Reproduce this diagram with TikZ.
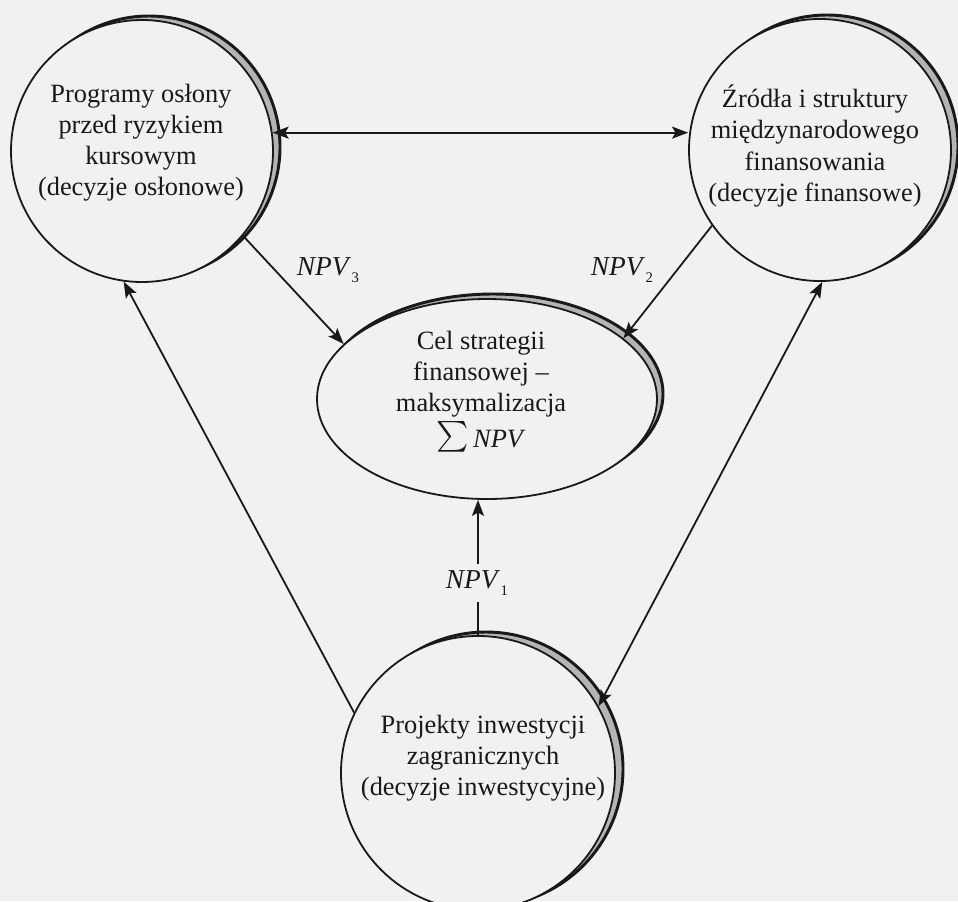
\documentclass[tikz,border=0pt]{standalone}
\usepackage{fontspec}
\setmainfont{Liberation Serif}
\usetikzlibrary{shapes.geometric,arrows.meta,calc}

\definecolor{paper}{RGB}{241,241,242}
\definecolor{rimgray}{RGB}{180,180,180}
\definecolor{ink}{RGB}{25,25,25}

% NPV with a small lowered index
\newcommand\npvsub[1]{\textit{NPV}\kern0.02em\raisebox{-0.55ex}{\fontsize{11}{11}\selectfont #1}}
% large summation sign, with a box trimmed to the visible glyph
\newcommand\bigsum{\raisebox{-0.4ex}[0.85em][0.25em]{\scalebox{2.3}{$\sum$}}}

\tikzset{
  x=0.75pt, y=-0.75pt,
  bubble/.style={circle, draw=ink, line width=1.35pt, fill=paper, inner sep=0pt, minimum size=#1},
  rim/.style={circle, draw=ink, line width=2.2pt, fill=rimgray, inner sep=0pt, minimum size=#1},
  oval/.style={ellipse, draw=ink, line width=1.35pt, fill=paper, inner sep=0pt,
               minimum width=255pt, minimum height=150pt},
  ovalrim/.style={ellipse, draw=ink, line width=2.2pt, fill=rimgray, inner sep=0pt,
               minimum width=255pt, minimum height=150pt},
  txt/.style={align=center, inner sep=0pt, font=\fontsize{19.8}{23.3}\selectfont, text=ink},
  lbl/.style={inner sep=1pt, font=\fontsize{20.5}{22}\selectfont, text=ink},
  link/.style={draw=ink, line width=1.35pt},
  tip/.style={-{Stealth[length=12pt,width=9pt,inset=2.5pt]}},
  tips/.style={{Stealth[length=12pt,width=9pt,inset=2.5pt]}-{Stealth[length=12pt,width=9pt,inset=2.5pt]}},
}

\begin{document}
\begin{tikzpicture}
  \useasboundingbox (0,0) rectangle (958,901);
  \clip (0,0) rectangle (958,901);
  \fill[paper] (0,0) rectangle (958,901);

  % shaded rims, offset up and to the right
  \node[rim=196.5pt] (c1r) at (149,147) {};
  \node[rim=196.5pt] (c2r) at (827,146) {};
  \node[ovalrim]     (ellr) at (493,394) {};
  \node[rim=205.5pt] (c4r) at (486,769) {};

  % main shapes
  \node[bubble=196.5pt] (c1) at (142,151) {};
  \node[bubble=196.5pt] (c2) at (820,150) {};
  \node[oval]           (ell) at (487,399) {};
  \node[bubble=205.5pt] (c4) at (478,773) {};

  % texts
  \node[txt] (t1) at (141,143) {Programy osłony\\przed ryzykiem\\kursowym\\(decyzje osłonowe)};
  \node[txt] (t2) at (815,146) {Źródła i struktury\\międzynarodowego\\finansowania\\(decyzje finansowe)};
  \node[txt] (t3) at (481,374) {Cel strategii\\finansowej –\\maksymalizacja};
  \node[txt] (t3s) at (481,440) {\bigsum\,\textit{NPV}};
  \node[txt] (t4) at (483,758) {Projekty inwestycji\\zagranicznych\\(decyzje inwestycyjne)};

  % connectors
  \draw[link, tips] (c1.8) -- (c1.8 -| c2.west);
  \draw[link, tip] (c1.-40) -- (ell.159);
  \draw[link, tip] (c2.215) -- (ell.24);
  \draw[link, tip] (c4.154) -- (c1.262);
  \draw[link, tips] (c2.271) -- (c4.29);
  \draw[link, tip] (c4.north) -- (ell.south -| c4.north);

  % labels
  \node[lbl] (n3) at (328,270) {\npvsub{3}};
  \node[lbl] (n2) at (622,270) {\npvsub{2}};
  \node[lbl, fill=paper, inner sep=5pt] (n1) at (477,583) {\npvsub{1}};
\end{tikzpicture}
\end{document}
